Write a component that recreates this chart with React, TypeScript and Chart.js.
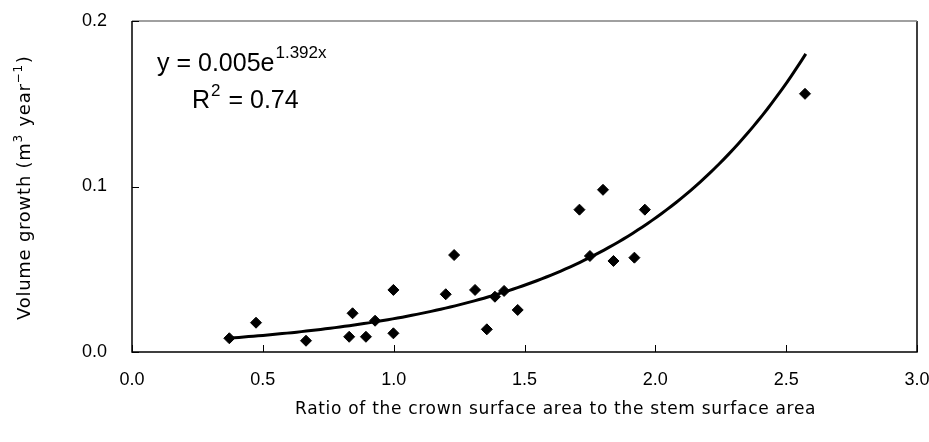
import React, { useEffect, useRef } from "react";
import { Chart, registerables } from "chart.js";
Chart.register(...registerables);

// Crown/stem surface area ratio (x) and volume growth (y)
const ratioValues = [0.372, 0.474, 0.665, 0.830, 0.843, 0.894, 0.929, 0.999, 0.999, 1.199, 1.231, 1.311, 1.356, 1.387, 1.422, 1.474, 1.71, 1.75, 1.80, 1.84, 1.92, 1.96, 2.572];
const growthValues = [0.0083, 0.0177, 0.0068, 0.0092, 0.0234, 0.0092, 0.0189, 0.0375, 0.0113, 0.0349, 0.0586, 0.0375, 0.0137, 0.0334, 0.0369, 0.0254, 0.086, 0.058, 0.098, 0.055, 0.057, 0.086, 0.156];
const xTickValues = [0, 0.5, 1.0, 1.5, 2.0, 2.5, 3.0];
const yTickValues = [0, 0.1, 0.2];
// Exponential trendline as printed on the chart: y = 0.005 e^(1.392x)
const trendA = 0.005;
const trendB = 1.392;
const trendRange = [0.372, 2.575];

const SANS = '"Liberation Sans", Arial, sans-serif';
const TITLE = '"DejaVu Sans", sans-serif';

const framePlugin = {
  id: "framePlugin",
  afterDraw(chart: any) {
    const { ctx, chartArea: a, scales } = chart;
    const xs = scales.x;
    const ys = scales.y;
    ctx.save();
    // frame
    ctx.lineWidth = 1.5;
    ctx.strokeStyle = "#000";
    ctx.beginPath();
    ctx.moveTo(a.left, a.top);
    ctx.lineTo(a.left, a.bottom);
    ctx.lineTo(a.right, a.bottom);
    ctx.lineTo(a.right, a.top);
    ctx.stroke();
    ctx.strokeStyle = "#808080";
    ctx.lineWidth = 1.5;
    ctx.beginPath();
    ctx.moveTo(a.left, a.top);
    ctx.lineTo(a.right, a.top);
    ctx.stroke();
    // inward ticks
    ctx.strokeStyle = "#000";
    ctx.lineWidth = 1;
    ctx.beginPath();
    for (const v of xTickValues) {
      const px = Math.round(xs.getPixelForValue(v)) + 0.5;
      ctx.moveTo(px, a.bottom);
      ctx.lineTo(px, a.bottom - 7);
    }
    for (const v of yTickValues) {
      const py = Math.round(ys.getPixelForValue(v)) + 0.5;
      ctx.moveTo(a.left, py);
      ctx.lineTo(a.left + 7, py);
    }
    ctx.stroke();

    ctx.fillStyle = "#000";
    ctx.textBaseline = "alphabetic";
    ctx.textAlign = "left";
    // equation
    ctx.font = `25px ${SANS}`;
    let t = "y = 0.005e";
    ctx.fillText(t, 157, 71);
    let w = ctx.measureText(t).width;
    ctx.font = `17px ${SANS}`;
    ctx.fillText("1.392x", 157 + w + 1, 58);
    ctx.font = `25px ${SANS}`;
    ctx.fillText("R", 192, 108);
    w = ctx.measureText("R").width;
    ctx.font = `17px ${SANS}`;
    ctx.fillText("2", 192 + w + 1, 96);
    const w2 = ctx.measureText("2").width;
    ctx.font = `25px ${SANS}`;
    ctx.fillText(" = 0.74", 192 + w + w2 + 2, 108);

    // x title
    ctx.font = `17px ${TITLE}`;
    (ctx as any).letterSpacing = "0.7px";
    ctx.fillText("Ratio of the crown surface area to the stem surface area", 295, 414);

    // y title
    ctx.translate(30, 320);
    ctx.rotate(-Math.PI / 2);
    const parts: [string, boolean][] = [["Volume growth (m", false], ["3", true], [" year", false], ["\u22121", true], [")", false]];
    let cx = 0;
    (ctx as any).letterSpacing = "0.75px";
    for (const [s, sup] of parts) {
      ctx.font = sup ? `12px ${TITLE}` : `18px ${TITLE}`;
      ctx.fillText(s, cx, sup ? -8 : 0);
      cx += ctx.measureText(s).width + (sup ? 1 : 0);
    }
    (ctx as any).letterSpacing = "0px";
    ctx.restore();
  },
};

export default function App() {
  const ref = useRef<HTMLCanvasElement>(null);
  useEffect(() => {
    if (!ref.current) return;
    const points = ratioValues.map((x, i) => ({ x, y: growthValues[i] }));
    const trend: { x: number; y: number }[] = [];
    const n = 120;
    for (let i = 0; i <= n; i++) {
      const x = trendRange[0] + ((trendRange[1] - trendRange[0]) * i) / n;
      trend.push({ x, y: trendA * Math.exp(trendB * x) });
    }
    const chart = new Chart(ref.current, {
      type: "scatter",
      data: {
        datasets: [
          {
            type: "line",
            data: trend,
            borderColor: "#000",
            borderWidth: 3,
            pointRadius: 0,
            fill: false,
            tension: 0,
            order: 1,
          } as any,
          {
            data: points,
            pointStyle: "rectRot",
            pointRadius: 5.5,
            backgroundColor: "#000",
            borderColor: "#000",
            borderWidth: 1,
            order: 0,
          },
        ],
      },
      options: {
        animation: false,
        responsive: false,
        maintainAspectRatio: false,
        layout: { autoPadding: false, padding: { left: 0, top: 21, right: 12, bottom: 0 } },
        plugins: { legend: { display: false }, tooltip: { enabled: false } },
        scales: {
          x: {
            type: "linear",
            min: 0,
            max: 3,
            grid: { display: false, drawTicks: false },
            border: { display: false },
            ticks: {
              stepSize: 0.5,
              padding: 17,
              color: "#000",
              font: { family: SANS, size: 18 },
              callback: (v: any) => Number(v).toFixed(1),
            },
            afterFit: (s: any) => {
              s.height = 90;
              s.paddingLeft = 0;
              s.paddingRight = 0;
            },
          },
          y: {
            type: "linear",
            min: 0,
            max: 0.2,
            grid: { display: false, drawTicks: false },
            border: { display: false },
            ticks: {
              stepSize: 0.1,
              padding: 25,
              color: "#000",
              font: { family: SANS, size: 18 },
              callback: (v: any) => Number(v).toFixed(1),
            },
            afterFit: (s: any) => {
              s.width = 132;
              s.paddingTop = 0;
              s.paddingBottom = 0;
            },
          },
        },
      },
      plugins: [framePlugin],
    });
    return () => chart.destroy();
  }, []);
  return (
    <div style={{ position: "fixed", left: 0, top: 0, width: 929, height: 442, background: "#fff" }}>
      <canvas ref={ref} width={929} height={442} style={{ display: "block", width: 929, height: 442 }} />
    </div>
  );
}
